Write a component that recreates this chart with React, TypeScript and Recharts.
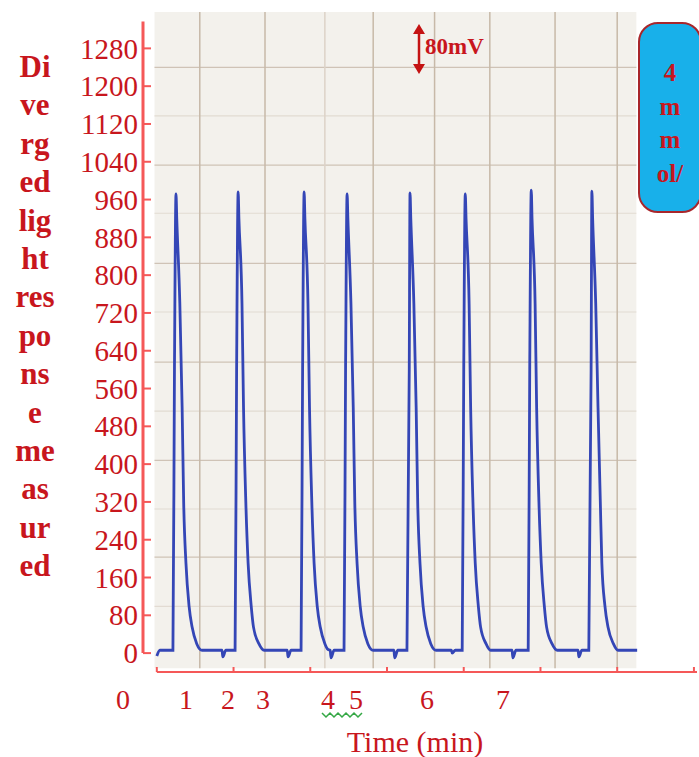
import React from 'react';
import { LineChart, Line, XAxis, YAxis, ReferenceLine, ReferenceArea } from 'recharts';

// time in minutes (axis tick marks = whole minutes), response in mV
const timeMin = [
  0.0, 0.04, 0.21, 0.23, 0.25, 0.26, 0.3, 0.33, 0.35, 0.38, 0.42, 0.46, 0.52, 0.59,
  0.85, 0.86, 0.9, 1.02, 1.04, 1.06, 1.07, 1.11, 1.13, 1.16, 1.19, 1.23, 1.26, 1.33, 1.4,
  1.7, 1.71, 1.75, 1.88, 1.9, 1.92, 1.93, 1.97, 1.99, 2.02, 2.05, 2.09, 2.13, 2.19, 2.23,
  2.26, 2.27, 2.31, 2.44, 2.46, 2.48, 2.49, 2.53, 2.56, 2.58, 2.61, 2.65, 2.69, 2.75, 2.82,
  3.09, 3.1, 3.14, 3.26, 3.29, 3.3, 3.31, 3.35, 3.38, 3.4, 3.43, 3.47, 3.51, 3.57, 3.64,
  3.84, 3.85, 3.89, 3.98, 4.0, 4.02, 4.03, 4.07, 4.09, 4.12, 4.15, 4.19, 4.22, 4.29, 4.35,
  4.63, 4.64, 4.68, 4.84, 4.86, 4.88, 4.89, 4.93, 4.95, 4.98, 5.01, 5.05, 5.08, 5.15, 5.22,
  5.49, 5.5, 5.54, 5.63, 5.66, 5.67, 5.68, 5.72, 5.75, 5.78, 5.8, 5.84, 5.88, 5.95, 6.01, 6.26,
];
const response = [
  -6, 6, 6, 600, 972, 920, 740, 520, 320, 190, 100, 55, 20, 6,
  6, -8, 6, 6, 600, 976, 920, 740, 520, 320, 190, 100, 55, 20, 6,
  6, -8, 6, 6, 600, 976, 920, 740, 520, 320, 190, 100, 55, 20, 8,
  6, -10, 6, 6, 600, 972, 920, 740, 520, 320, 190, 100, 55, 20, 6,
  6, -10, 6, 6, 600, 974, 920, 740, 520, 320, 190, 100, 55, 20, 6,
  6, 0, 6, 6, 600, 972, 920, 740, 520, 320, 190, 100, 55, 20, 6,
  6, -10, 6, 6, 600, 980, 920, 740, 520, 320, 190, 100, 55, 20, 6,
  6, -8, 6, 6, 600, 978, 920, 740, 520, 320, 190, 100, 55, 20, 6, 6,
];
const yTicks = [0, 80, 160, 240, 320, 400, 480, 560, 640, 720, 800, 880, 960, 1040, 1120, 1200, 1280];
const xTicks = [0, 1, 2, 3, 4, 5, 6, 7];
const xLabels = ['0', '1', '2', '3', '4', '5', '6', '7'];
const titleLines = ['Di', 've', 'rg', 'ed', 'lig', 'ht', 'res', 'po', 'ns', 'e', 'me', 'as', 'ur', 'ed'];
const boxLines = ['4', 'm', 'm', 'ol/'];

// paper grid lines of the recorder trace
const paperV = [0.56, 1.41, 2.19, 2.82, 3.62, 4.34, 5.19, 6.0];
const paperH = [1240, 1137, 1033, 931, 825, 722, 616, 512, 408, 305, 203, 99];

const data = timeMin.map((t, i) => ({ t, v: response[i] }));

const RED = '#c8161d';
const AXIS = '#f55858';
const FONT = '"Liberation Serif", "Times New Roman", serif';
const xLabelPos = [123, 186, 228, 263, 328, 356, 427, 503];

const YTick = (props: any) => {
  const { x, y, payload } = props;
  return (
    <g>
      <line x1={x} x2={x + 8} y1={y} y2={y} stroke={AXIS} strokeWidth={2} />
      <text x={x - 5} y={y} dy="0.35em" textAnchor="end" fontSize={29} fill={RED} fontFamily={FONT}>
        {payload.value}
      </text>
    </g>
  );
};

const XTick = (props: any) => {
  const { x, y } = props;
  return <line x1={x} x2={x} y1={y} y2={y - 5} stroke={AXIS} strokeWidth={2} />;
};

export default function App() {
  return (
    <div style={{ position: 'absolute', left: 0, top: 0, width: 699, height: 757, overflow: 'hidden', background: '#fff' }}>
      <LineChart width={699} height={757} data={data} margin={{ top: 12, right: 2, bottom: 0, left: 0 }}>
        <XAxis
          type="number"
          dataKey="t"
          domain={[-0.18, 7.04]}
          ticks={xTicks}
          allowDataOverflow
          height={85}
          axisLine={false}
          tickLine={false}
          tickSize={0}
          tickMargin={0}
          tick={XTick}
        />
        <YAxis
          type="number"
          domain={[-40, 1357]}
          ticks={yTicks}
          allowDataOverflow
          width={143}
          axisLine={false}
          tickLine={false}
          tickSize={0}
          tickMargin={0}
          tick={YTick}
        />
        <ReferenceArea x1={-0.03} x2={6.25} y1={-32} y2={1357} fill="#f3f1ec" fillOpacity={1} stroke="none" ifOverflow="visible" />
        {paperH.map((h, i) => (
          <ReferenceLine key={'h' + i} segment={[{ x: -0.03, y: h }, { x: 6.25, y: h }]} stroke={i % 2 ? '#e2dbd2' : '#cfc3b6'} strokeWidth={1.2} ifOverflow="visible" />
        ))}
        {paperV.map((v, i) => (
          <ReferenceLine key={'v' + i} segment={[{ x: v, y: -32 }, { x: v, y: 1357 }]} stroke={i === 2 ? '#ddd3c8' : '#c7b9a8'} strokeWidth={1.5} ifOverflow="visible" />
        ))}
        <ReferenceLine segment={[{ x: -0.18, y: 0 }, { x: -0.18, y: 1337 }]} stroke={AXIS} strokeWidth={3} ifOverflow="visible" />
        <ReferenceLine segment={[{ x: 0, y: -40 }, { x: 7.04, y: -40 }]} stroke={AXIS} strokeWidth={2} ifOverflow="visible" />
        <Line type="monotone" dataKey="v" stroke="#3446b6" strokeWidth={2.8} dot={false} isAnimationActive={false} />
      </LineChart>

      <div style={{ position: 'absolute', left: 0, top: 48, width: 70, textAlign: 'center', fontFamily: FONT, fontWeight: 'bold', fontSize: 31, lineHeight: '38.4px', color: RED }}>
        {titleLines.map((s, i) => (
          <div key={i}>{s}</div>
        ))}
      </div>

      {xLabels.map((s, i) => (
        <div key={i} style={{ position: 'absolute', left: xLabelPos[i] - 20, top: 684, width: 40, textAlign: 'center', fontFamily: FONT, fontSize: 28, lineHeight: '32px', color: RED }}>
          {s}
        </div>
      ))}
      <svg style={{ position: 'absolute', left: 321, top: 711 }} width={44} height={8}>
        <polyline points="1,2 5,6 9,2 13,6 17,2 21,6 25,2 29,6 33,2 37,6 41,2" fill="none" stroke="#35a845" strokeWidth={1.5} />
      </svg>

      <div style={{ position: 'absolute', left: 315, top: 724, width: 200, textAlign: 'center', fontFamily: FONT, fontSize: 30, lineHeight: '36px', color: RED }}>
        Time (min)
      </div>

      <svg style={{ position: 'absolute', left: 412, top: 24 }} width={14} height={50}>
        <line x1={7} x2={7} y1={6} y2={44} stroke="#c41212" strokeWidth={2.5} />
        <polygon points="7,0 1,10 13,10" fill="#c41212" />
        <polygon points="7,50 1,40 13,40" fill="#c41212" />
      </svg>
      <div style={{ position: 'absolute', left: 425, top: 32, fontFamily: FONT, fontWeight: 'bold', fontSize: 23, lineHeight: '30px', color: RED }}>
        80mV
      </div>

      <div style={{ position: 'absolute', left: 638, top: 22, width: 64, height: 191, boxSizing: 'border-box', borderRadius: 20, border: '2px solid #a8262b', background: '#18b0ea', paddingTop: 32, textAlign: 'center', fontFamily: FONT, fontWeight: 'bold', fontSize: 25, lineHeight: '33.7px', color: RED }}>
        {boxLines.map((s, i) => (
          <div key={i}>{s}</div>
        ))}
      </div>
    </div>
  );
}
